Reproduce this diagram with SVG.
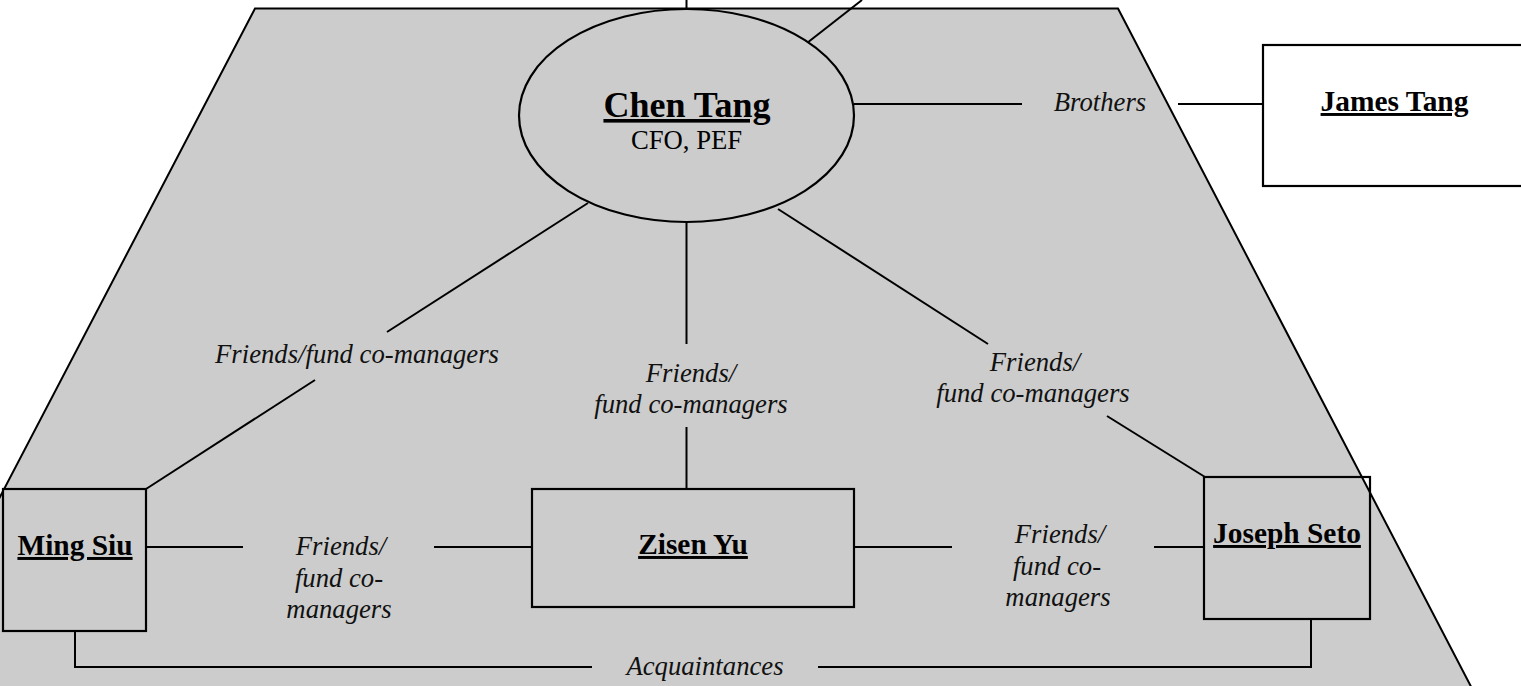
<svg xmlns="http://www.w3.org/2000/svg" width="1521" height="686" viewBox="0 0 1521 686">
<style>
.bg{fill:#ffffff}
.area{fill:#cccccc;stroke:#000;stroke-width:2}
.ln{stroke:#000;stroke-width:2;fill:none}
.box{fill:#cccccc;stroke:#000;stroke-width:2.2}
.wbox{fill:#ffffff;stroke:#000;stroke-width:2.2}
.name{font-family:"Liberation Serif","Times New Roman",serif;font-weight:bold;font-size:29.4px;text-anchor:middle;text-decoration:underline;fill:#000}
.big{font-size:36px}
.sub{font-family:"Liberation Serif","Times New Roman",serif;font-size:26.7px;text-anchor:middle;fill:#000}
.lbl{font-family:"Liberation Serif","Times New Roman",serif;font-style:italic;font-size:26.7px;text-anchor:middle;fill:#111}
</style>
<rect class="bg" x="0" y="0" width="1521" height="686"/>
<polygon class="area" points="255,8.5 1118,8.5 1478,700 -106,700"/>
<g id="connectors">
  <line class="ln" x1="686.5" y1="0" x2="686.5" y2="8.5"/>
  <line class="ln" x1="862" y1="0" x2="807" y2="43"/>
  <line class="ln" x1="854" y1="104" x2="1022" y2="104"/>
  <line class="ln" x1="1178" y1="104" x2="1263" y2="104"/>
  <line class="ln" x1="588" y1="203" x2="387" y2="332"/>
  <line class="ln" x1="315" y1="380" x2="146" y2="489"/>
  <line class="ln" x1="686.5" y1="222" x2="686.5" y2="344"/>
  <line class="ln" x1="686.5" y1="427" x2="686.5" y2="489"/>
  <line class="ln" x1="778" y1="209" x2="988" y2="344"/>
  <line class="ln" x1="1107" y1="416" x2="1205" y2="477"/>
  <line class="ln" x1="146" y1="547" x2="243" y2="547"/>
  <line class="ln" x1="434" y1="547" x2="532" y2="547"/>
  <line class="ln" x1="854" y1="547" x2="952" y2="547"/>
  <line class="ln" x1="1154" y1="547" x2="1204" y2="547"/>
  <polyline class="ln" points="75,631 75,667 592,667"/>
  <polyline class="ln" points="818,667 1311,667 1311,619"/>
  <text class="lbl" x="1100" y="111">Brothers</text>
  <text class="lbl" x="357" y="363">Friends/fund co-managers</text>
  <text class="lbl" x="691" y="382">Friends/</text>
  <text class="lbl" x="691" y="413">fund co-managers</text>
  <text class="lbl" x="1035" y="371">Friends/</text>
  <text class="lbl" x="1033" y="402">fund co-managers</text>
  <text class="lbl" x="341" y="555">Friends/</text>
  <text class="lbl" x="339" y="587">fund co-</text>
  <text class="lbl" x="339" y="618">managers</text>
  <text class="lbl" x="1060" y="543">Friends/</text>
  <text class="lbl" x="1057" y="575">fund co-</text>
  <text class="lbl" x="1058" y="606">managers</text>
  <text class="lbl" x="705" y="675">Acquaintances</text>
</g>
<g id="chen-tang">
  <ellipse class="box" cx="686.5" cy="115.5" rx="167.5" ry="106.5"/>
  <text class="name big" x="687" y="117">Chen Tang</text>
  <text class="sub" x="686.5" y="149">CFO, PEF</text>
</g>
<g id="james-tang">
  <rect class="wbox" x="1263" y="45" width="300" height="141"/>
  <text class="name" x="1394.5" y="111">James Tang</text>
</g>
<g id="ming-siu">
  <rect class="box" x="3" y="489" width="143" height="142"/>
  <text class="name" x="75" y="555">Ming Siu</text>
</g>
<g id="zisen-yu">
  <rect class="box" x="532" y="489" width="322" height="118"/>
  <text class="name" x="693" y="554">Zisen Yu</text>
</g>
<g id="joseph-seto">
  <rect class="ln" x="1204" y="477" width="166" height="142" style="stroke-width:2.2"/>
  <text class="name" x="1287" y="543">Joseph Seto</text>
</g>
</svg>
